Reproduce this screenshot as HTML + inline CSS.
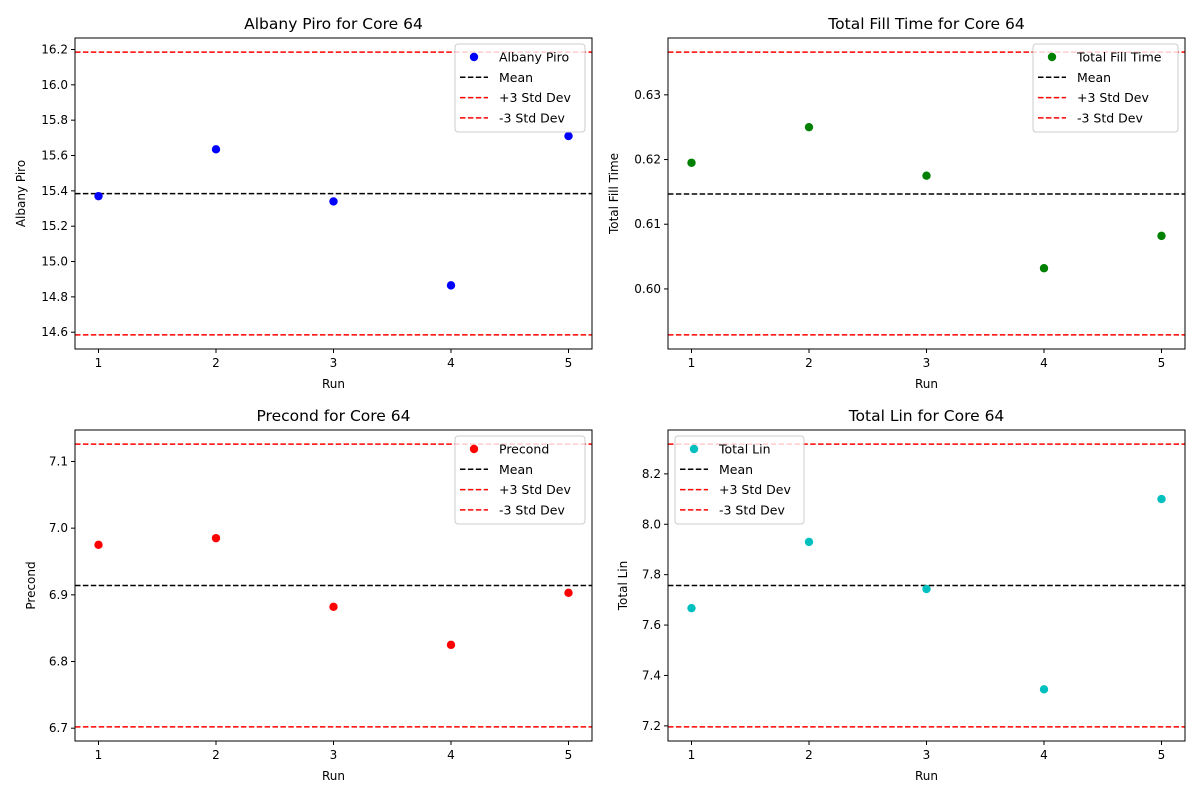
<!DOCTYPE html>
<html><head><meta charset="utf-8"><style>
body{margin:0;background:#fff;font-family:"Liberation Sans","DejaVu Sans",sans-serif}
svg text{font-family:"DejaVu Sans","Liberation Sans",sans-serif}
</style></head><body>
<svg id="fig" width="1200" height="800" xmlns="http://www.w3.org/2000/svg"></svg>
<script>
const runs=[1,2,3,4,5];
const albanyVals=[15.37,15.635,15.34,14.865,15.71];
const fillVals=[0.6195,0.625,0.6175,0.6032,0.6082];
const precondVals=[6.975,6.985,6.882,6.825,6.903];
const linVals=[7.667,7.93,7.743,7.345,8.10];
const albanyLimits=[16.185,14.585];
const fillLimits=[0.6366,0.5929];
const precondLimits=[7.126,6.702];
const linLimits=[8.318,7.196];
const albanyTicks=[14.6,14.8,15.0,15.2,15.4,15.6,15.8,16.0,16.2];
const fillTicks=[0.60,0.61,0.62,0.63];
const precondTicks=[6.7,6.8,6.9,7.0,7.1];
const linTicks=[7.2,7.4,7.6,7.8,8.0,8.2];
const legendLabels=["Mean","+3 Std Dev","-3 Std Dev"];
const NS="http://www.w3.org/2000/svg";
const svg=document.getElementById('fig');
function mk(tag,attrs,parent,text){const e=document.createElementNS(NS,tag);for(const k in attrs)e.setAttribute(k,attrs[k]);if(text!==undefined)e.textContent=text;(parent||svg).appendChild(e);return e;}
function panel(cfg){
  const {L,R,T,B,vals,limits,ticks,color,name,dec,legendLeft,slug}=cfg;
  const g=mk('g',{});
  
  
  const n=vals.length;
  const mean=vals.reduce((a,b)=>a+b,0)/n;
  const hi=limits[0], lo=limits[1];
  const all=vals.concat([hi,lo,mean]);
  const mx=Math.max(...all), mn=Math.min(...all);
  const y0=mn-(mx-mn)*0.05, y1=mx+(mx-mn)*0.05;
  const xs=v=>L+(R-L)*(v-0.8)/4.4;
  const ys=v=>B-(B-T)*(v-y0)/(y1-y0);
  runs.forEach(r=>{const x=xs(r);mk('line',{x1:x,x2:x,y1:B,y2:B+4,stroke:'#000'},g);const t=mk('text',{x:x,y:B+18,'font-size':12,'text-anchor':'middle'},g,r);});
  ticks.forEach(v=>{const y=ys(v);if(y<T-0.5||y>B+0.5)return;mk('line',{x1:L-4,x2:L,y1:y,y2:y,stroke:'#000'},g);const t=mk('text',{x:L-7,y:y+4,'font-size':12,'text-anchor':'end'},g,v.toFixed(dec));});
  const ml=mk('line',{x1:L,x2:R,y1:ys(mean),y2:ys(mean),stroke:'#000','stroke-width':1.5,'stroke-dasharray':'5.5,2.4'},g);
  
  [hi,lo].forEach((v,i)=>{const l=mk('line',{x1:L,x2:R,y1:ys(v),y2:ys(v),stroke:'#f00','stroke-width':1.5,'stroke-dasharray':'5.5,2.4'},g);});
  vals.forEach((v,i)=>{const c=mk('circle',{cx:xs(runs[i]),cy:ys(v),r:4.2,fill:color},g);});
  mk('rect',{x:L,y:T,width:R-L,height:B-T,fill:'none',stroke:'#000','stroke-width':1},g);
  const tt=mk('text',{x:(L+R)/2,y:T-9,'font-size':15.5,'text-anchor':'middle'},g,name+' for Core 64');
  const xl=mk('text',{x:(L+R)/2,y:B+39,'font-size':12,'text-anchor':'middle'},g,'Run');
  const yl=mk('text',{x:0,y:0,'font-size':12,'text-anchor':'middle',transform:`translate(${cfg.ylabX},${(T+B)/2}) rotate(-90)`},g,name);
  const lw=cfg.legW, lx=legendLeft?L+7:R-7-lw, ly=T+6;
  const lg=mk('g',{},g);
  mk('rect',{x:lx,y:ly,width:lw,height:88,rx:3,fill:'#fff','fill-opacity':0.8,stroke:'#ccc'},lg);
  const labs=[name].concat(legendLabels);const cols=[color,'#000','#f00','#f00'];
  labs.forEach((s,i)=>{const yy=ly+13+i*20.3;
    if(i===0)mk('circle',{cx:lx+19,cy:yy,r:4.2,fill:color},lg);
    else mk('line',{x1:lx+5,x2:lx+33,y1:yy,y2:yy,stroke:cols[i],'stroke-width':1.5,'stroke-dasharray':'5.5,2.4'},lg);
    const t=mk('text',{x:lx+44,y:yy+4.5,'font-size':12.5},lg,s);});
}
panel({slug:'albany-piro',L:75,R:592,T:38,B:349,vals:albanyVals,limits:albanyLimits,ticks:albanyTicks,color:'#0000ff',name:'Albany Piro',dec:1,legW:130,legendLeft:false,ylabX:25});
panel({slug:'total-fill-time',L:668,R:1185,T:38,B:349,vals:fillVals,limits:fillLimits,ticks:fillTicks,color:'#008000',name:'Total Fill Time',dec:2,legW:145,legendLeft:false,ylabX:618});
panel({slug:'precond',L:75,R:592,T:430,B:741,vals:precondVals,limits:precondLimits,ticks:precondTicks,color:'#ff0000',name:'Precond',dec:1,legW:130,legendLeft:false,ylabX:35});
panel({slug:'total-lin',L:668,R:1185,T:430,B:741,vals:linVals,limits:linLimits,ticks:linTicks,color:'#00bfbf',name:'Total Lin',dec:1,legW:129,legendLeft:true,ylabX:627});
</script>
</body></html>
